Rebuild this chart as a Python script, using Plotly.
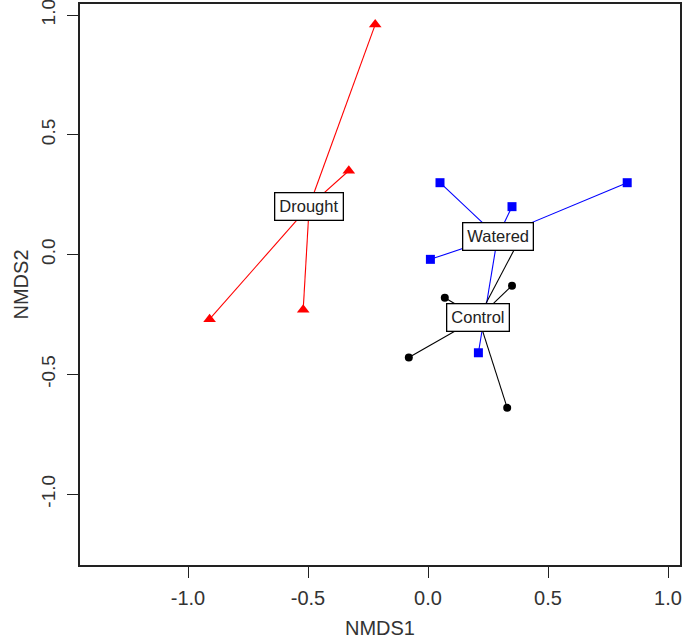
import plotly.graph_objects as go

# Data (NMDS site scores)
groups = ["Drought", "Watered", "Control"]
drought_x = [-0.22, -0.33, -0.52, -0.91]
drought_y = [0.96, 0.35, -0.23, -0.27]
watered_x = [0.05, 0.83, 0.35, 0.01, 0.21]
watered_y = [0.30, 0.30, 0.20, -0.02, -0.41]
control_x = [0.07, 0.35, -0.08, 0.33, 0.38]
control_y = [-0.18, -0.13, -0.43, -0.64, 0.06]

tick_vals = [-1.0, -0.5, 0.0, 0.5, 1.0]
tick_text = ["-1.0", "-0.5", "0.0", "0.5", "1.0"]

series = [
    ("Drought", drought_x, drought_y, "#FF0000", "triangle-up", 11),
    ("Watered", watered_x, watered_y, "#0000FF", "square", 9),
    ("Control", control_x, control_y, "#000000", "circle", 8),
]

FONT = "Arial, Liberation Sans, sans-serif"
fig = go.Figure()
annotations = []
for name, xs, ys, col, sym, sz in series:
    cx = sum(xs) / len(xs)
    cy = sum(ys) / len(ys)
    lx, ly = [], []
    for x, y in zip(xs, ys):
        lx += [cx, x, None]
        ly += [cy, y, None]
    fig.add_trace(go.Scatter(x=lx, y=ly, mode="lines",
                             line=dict(color=col, width=1.1),
                             showlegend=False, hoverinfo="skip"))
    fig.add_trace(go.Scatter(x=xs, y=ys, mode="markers", name=name,
                             marker=dict(color=col, symbol=sym, size=sz,
                                         line=dict(width=0)),
                             showlegend=False))
    annotations.append(dict(x=cx, y=cy, xref="x", yref="y", text=name,
                            showarrow=False, bgcolor="white",
                            bordercolor="black", borderwidth=1.3,
                            borderpad=4,
                            font=dict(family=FONT, size=16.5, color="#222")))

axis_common = dict(
    tickvals=tick_vals, ticktext=tick_text, ticks="outside", ticklen=11,
    tickwidth=1.2, tickcolor="#222", showline=True, mirror=True,
    linecolor="#222", linewidth=1.6, showgrid=False, zeroline=False,
    fixedrange=True, automargin=False, ticklabeloverflow="allow",
)

fig.update_layout(
    width=685, height=643,
    margin=dict(l=80, r=5, t=4, b=78),
    paper_bgcolor="white", plot_bgcolor="white",
    annotations=annotations,
    xaxis=dict(range=[-1.45, 1.05], ticklabelstandoff=3, **axis_common,
               tickfont=dict(family=FONT, size=20, color="#333"),
               title=dict(text="NMDS1", standoff=13,
                          font=dict(family=FONT, size=20, color="#333"))),
    yaxis=dict(range=[-1.296, 1.046], tickangle=-90, ticklabelstandoff=5,
               **axis_common,
               tickfont=dict(family=FONT, size=19, color="#333"),
               title=dict(text="NMDS2", standoff=4,
                          font=dict(family=FONT, size=20, color="#333"))),
)
fig.write_html("out.html",
               config={"displayModeBar": False},
               post_script="document.body.style.margin='0';"
                           "document.body.style.overflow='hidden';")
